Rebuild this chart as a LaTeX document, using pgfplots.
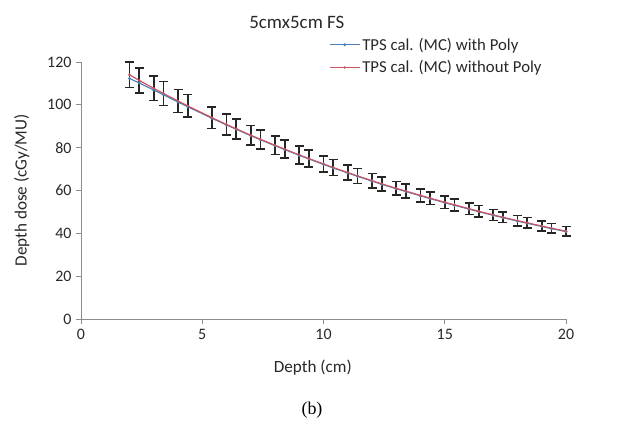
\documentclass[border=0pt]{standalone}
\usepackage{fontspec}
\setmainfont{Carlito}
\newfontfamily\timesfont{Liberation Serif}
\usepackage{pgfplots}
\usepackage{pgfplotstable}
\pgfplotsset{compat=1.18}
\definecolor{xlblue}{RGB}{74,126,187}
\definecolor{xlred}{RGB}{200,85,95}
\definecolor{axgray}{RGB}{140,140,140}
\definecolor{txt}{RGB}{40,40,40}

\pgfplotstableread{
x y err
2 114.0 6.0
2.4 111.4 5.9
3 107.7 5.7
3.4 105.3 5.6
4 101.8 5.4
4.4 99.5 5.3
5.4 94.0 5.0
6 90.8 4.8
6.4 88.8 4.7
7 85.8 4.5
7.4 83.9 4.4
8 81.1 4.3
8.4 79.3 4.2
9 76.6 4.1
9.4 74.9 4.0
10 72.4 3.8
10.4 70.7 3.7
11 68.4 3.6
11.4 66.8 3.5
12 64.6 3.4
12.4 63.1 3.3
13 61.0 3.2
13.4 59.7 3.2
14 57.7 3.1
14.4 56.4 3.0
15 54.5 2.9
15.4 53.3 2.8
16 51.5 2.7
16.4 50.3 2.7
17 48.6 2.6
17.4 47.5 2.5
18 45.9 2.4
18.4 44.9 2.4
19 43.4 2.3
19.4 42.4 2.2
20 41.0 2.2
}\redtab

\pgfplotstableread{
x y
2 112.3
2.4 110.2
3 106.9
3.4 104.7
4 101.3
4.4 99.1
5.4 93.7
6 90.6
6.4 88.6
7 85.6
7.4 83.7
8 80.9
8.4 79.1
9 76.4
9.4 74.7
10 72.2
10.4 70.5
11 68.2
11.4 66.6
12 64.4
12.4 62.9
13 60.8
13.4 59.5
14 57.5
14.4 56.2
15 54.3
15.4 53.1
16 51.3
16.4 50.1
17 48.4
17.4 47.3
18 45.7
18.4 44.7
19 43.2
19.4 42.2
20 40.8
}\bluetab

\begin{document}
\begin{tikzpicture}
\path[use as bounding box] (0,0) rectangle (633bp,426bp);
\begin{axis}[
  at={(81bp,107bp)}, anchor=south west,
  scale only axis, width=485bp, height=257bp,
  xmin=0, xmax=20, ymin=0, ymax=120,
  xtick={0,5,10,15,20}, ytick={0,20,40,60,80,100,120},
  axis lines=left,
  axis line style={axgray, line width=0.9bp, -},
  tick style={axgray, line width=0.9bp},
  tick align=outside, major tick length=5bp,
  /pgf/number format/assume math mode=true,
  ticklabel style={font=\fontsize{16}{19}\selectfont, text=txt},
  yticklabel style={xshift=-1bp},
  xticklabel style={yshift=-2bp},
  title={5cmx5cm FS},
  title style={at={(axis description cs:0.445,1.132)}, anchor=center, font=\fontsize{19}{22}\selectfont, text=txt},
  xlabel={Depth (cm)},
  xlabel style={at={(axis description cs:0.478,-0.19)}, anchor=center, font=\fontsize{17.2}{20}\selectfont, text=txt},
  ylabel={Depth dose (cGy/MU)},
  ylabel style={at={(axis description cs:-0.122,0.5)}, anchor=center, font=\fontsize{17.2}{20}\selectfont, text=txt},
  legend style={draw=none, fill=none, at={(axis description cs:0.505,1.110)}, anchor=north west,
    font=\fontsize{16.8}{19}\selectfont, text=txt, row sep=5bp, cells={anchor=west}},
  legend image code/.code={\draw[mark repeat=2,mark phase=2,#1] plot coordinates {(0bp,0bp) (15bp,0bp) (30bp,0bp)};},
  clip=false,
]
\addplot[xlblue, line width=1.1bp, mark=*, mark size=0.9bp, mark options={fill=xlblue}] table[x=x,y=y] {\bluetab};
\addlegendentry{TPS cal. (MC) with Poly}
\addplot[xlred, line width=1.2bp, mark=*, mark size=0.6bp, mark options={fill=xlred}] table[x=x,y=y] {\redtab};
\addlegendentry{TPS cal. (MC) without Poly}
\addplot[draw=none, forget plot, error bars/.cd, y dir=both, y explicit,
  error bar style={black!85, line width=1.6bp},
  error mark options={rotate=90, mark size=4.5bp, line width=1.6bp, black!85}]
  table[x=x, y=y, y error=err] {\redtab};
\end{axis}
\node[font=\timesfont\fontsize{18}{21}\selectfont] at (312bp,16bp) {(b)};
\end{tikzpicture}
\end{document}
